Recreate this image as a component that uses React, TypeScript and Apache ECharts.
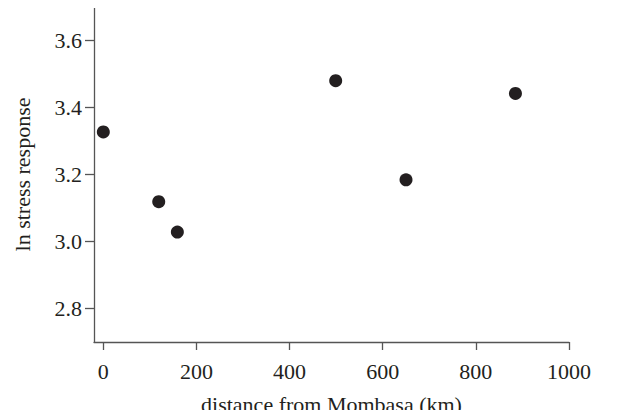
import React, { useEffect, useRef } from "react";
import * as echarts from "echarts";

const distanceKm = [0, 119, 159, 499, 650, 885];
const lnStress = [3.327, 3.119, 3.028, 3.48, 3.184, 3.442];
const xTicks = [0, 200, 400, 600, 800, 1000];
const yTicks = [2.8, 3.0, 3.2, 3.4, 3.6];

export default function App() {
  const ref = useRef<HTMLDivElement>(null);
  useEffect(() => {
    if (!ref.current) return;
    const chart = echarts.init(ref.current, null, { renderer: "svg" });
    const font = "'Liberation Serif', 'Times New Roman', serif";
    const ink = "#231f20";
    const axisColor = "#555";
    chart.setOption({
      animation: false,
      grid: { left: 94, right: 67, top: 7, bottom: 76, containLabel: false, outerBoundsMode: "none" },
      xAxis: {
        type: "value",
        min: -20,
        max: 1000,
        name: "distance from Mombasa (km)",
        nameLocation: "middle",
        nameGap: 51,
        nameTextStyle: { fontFamily: font, fontSize: 22, lineHeight: 22, color: ink },
        axisLine: { show: true, onZero: false, lineStyle: { color: axisColor, width: 1.3 } },
        axisTick: { show: true, length: 8, customValues: xTicks, lineStyle: { color: axisColor, width: 1.3 } },
        axisLabel: {
          customValues: xTicks,
          margin: 18,
          fontFamily: font,
          fontSize: 22,
          color: ink,
          formatter: (v: number) => String(v),
        },
        splitLine: { show: false },
      },
      yAxis: {
        type: "value",
        min: 2.7,
        max: 3.7,
        name: "ln stress response",
        nameLocation: "middle",
        nameGap: 61,
        nameTextStyle: { fontFamily: font, fontSize: 22, color: ink },
        axisLine: { show: true, onZero: false, lineStyle: { color: axisColor, width: 1.3 } },
        axisTick: { show: true, length: 9, customValues: yTicks, lineStyle: { color: axisColor, width: 1.3 } },
        axisLabel: {
          customValues: yTicks,
          margin: 12,
          fontFamily: font,
          fontSize: 22,
          color: ink,
          formatter: (v: number) => v.toFixed(1),
        },
        splitLine: { show: false },
      },
      series: [
        {
          type: "scatter",
          data: distanceKm.map((d, i) => [d, lnStress[i]]),
          symbol: "circle",
          symbolSize: 13,
          itemStyle: { color: ink, opacity: 1 },
          clip: false,
        },
      ],
    });
    return () => chart.dispose();
  }, []);
  return <div ref={ref} style={{ width: 636, height: 418, margin: -8 }} />;
}
